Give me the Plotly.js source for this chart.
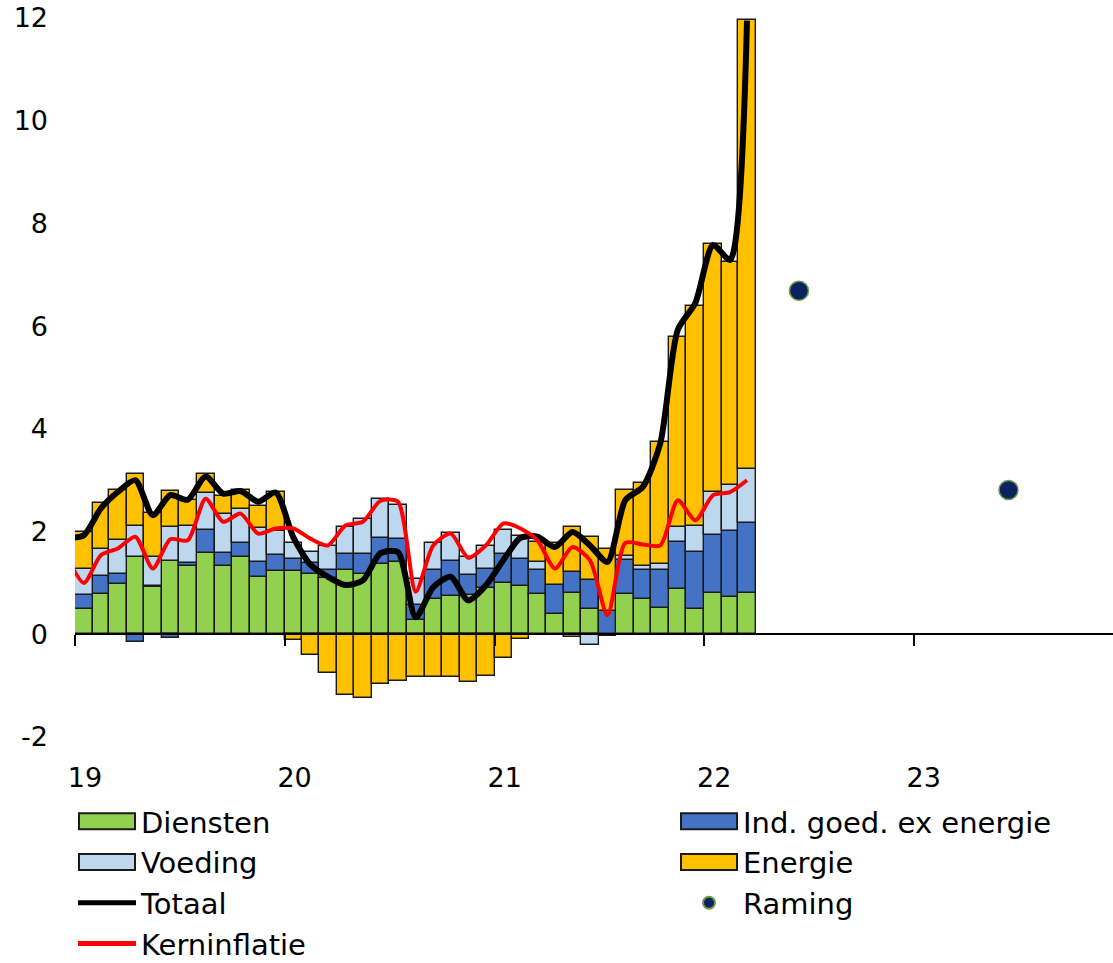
<!DOCTYPE html>
<html>
<head>
<meta charset="utf-8">
<script src="https://cdn.plot.ly/plotly-3.0.1.min.js"></script>
<style>
  html, body { margin: 0; padding: 0; background: #ffffff; }
  #chart { width: 1113px; height: 963px; }
</style>
</head>
<body>
<div id="chart"></div>
<script>
// ---- data ----
const months = [
  '2019-01','2019-02','2019-03','2019-04','2019-05','2019-06','2019-07','2019-08','2019-09','2019-10','2019-11','2019-12',
  '2020-01','2020-02','2020-03','2020-04','2020-05','2020-06','2020-07','2020-08','2020-09','2020-10','2020-11','2020-12',
  '2021-01','2021-02','2021-03','2021-04','2021-05','2021-06','2021-07','2021-08','2021-09','2021-10','2021-11','2021-12',
  '2022-01','2022-02','2022-03'
];
const diensten = [
  0.49, 0.78, 0.97, 1.51, 0.92, 1.43, 1.33, 1.59, 1.33, 1.51, 1.12, 1.24,
  1.24, 1.18, 1.10, 1.26, 1.17, 1.36, 1.41, 0.27, 0.68, 0.75, 0.76, 0.91,
  0.99, 0.95, 0.78, 0.39, 0.81, 0.49, -0.03, 0.79, 0.68, 0.52, 0.88, 0.49,
  0.81, 0.72, 0.81
];
const indGoederen = [
  0.27, 0.35, 0.20, -0.15, 0.02, -0.08, 0.06, 0.44, 0.26, 0.26, 0.29, 0.30,
  0.22, 0.20, 0.16, 0.30, 0.39, 0.52, 0.44, 0.30, 0.57, 0.67, 0.39, 0.37,
  0.57, 0.52, 0.47, 0.57, 0.40, 0.56, 0.45, 0.65, 0.57, 0.73, 0.92, 1.11,
  1.12, 1.29, 1.35
];
const voeding = [
  0.52, 0.54, 0.66, 0.60, 0.57, 0.65, 0.72, 0.73, 0.76, 0.67, 0.65, 0.47,
  0.31, 0.23, 0.46, 0.53, 0.68, 0.76, 0.66, 0.51, 0.52, 0.56, 0.36, 0.44,
  0.47, 0.45, 0.15, 0.00, -0.05, -0.20, 0.00, 0.08, 0.08, 0.11, 0.28, 0.51,
  0.84, 0.89, 1.06
];
const energie = [
  0.71, 0.88, 0.98, 1.02, 0.85, 0.71, 0.50, 0.37, 0.34, 0.37, 0.44, 0.76,
  -0.12, -0.40, -0.75, -1.18, -1.25, -0.97, -0.91, -0.84, -0.84, -0.84, -0.92, -0.82,
  -0.46, -0.09, 0.40, 0.81, 0.88, 0.85, 1.22, 1.29, 1.62, 2.38, 3.70, 4.29,
  4.83, 4.35, 8.75
];
// lines start one month earlier (Dec 2018), clipped at the left edge
const lineMonths = ['2018-12'].concat(months);
const totaal = [
  1.87,
  1.93, 2.45, 2.77, 3.00, 2.32, 2.71, 2.62, 3.07, 2.74, 2.79, 2.58, 2.76,
  1.88, 1.35, 1.12, 0.96, 1.05, 1.58, 1.60, 0.33, 0.92, 1.12, 0.66, 0.95,
  1.45, 1.88, 1.90, 1.70, 1.99, 1.73, 1.41, 2.61, 2.87, 3.72, 5.93, 6.45,
  7.58, 7.29, 11.95
];
const kerninflatie = [
  1.55,
  1.00, 1.54, 1.67, 1.90, 1.28, 1.85, 1.83, 2.64, 2.19, 2.35, 1.96, 2.06,
  2.06, 1.86, 1.73, 2.12, 2.19, 2.60, 2.58, 0.83, 1.73, 1.96, 1.49, 1.73,
  2.16, 2.06, 1.83, 1.28, 1.70, 1.44, 0.37, 1.78, 1.75, 1.73, 2.61, 2.22,
  2.71, 2.77, 3.00
];
const ramingDates = ['2022-06-15', '2023-06-15'];
const raming = [6.69, 2.81];
const yearTicks = ['2019-01-01', '2020-01-01', '2021-01-01', '2022-01-01', '2023-01-01'];
const yearLabels = ['19', '20', '21', '22', '23'];
const yTickVals = [-2, 0, 2, 4, 6, 8, 10, 12];
const yTickText = ['-2', '0', '2', '4', '6', '8', '10', '12'];

// ---- styling ----
const FONT = 'DejaVu Sans, Verdana, sans-serif';
const xRange = ['2019-01-01', '2023-12-14'];
const yRange = [-2, 12];
const W = 1113, H = 963, ML = 75, MR = 0;
const monthWidth = months.map(m => {
  const [y, mo] = m.split('-').map(Number);
  return new Date(Date.UTC(y, mo, 0)).getUTCDate() * 86400000;
});

function barTrace(name, values, color, legendId) {
  return {
    type: 'bar', name: name, x: months, y: values, legend: legendId,
    xperiod: 'M1', xperiodalignment: 'middle',
    width: monthWidth,
    marker: { color: color, line: { color: '#1a1a1a', width: 1.4 } },
    hoverinfo: 'x+y+name'
  };
}

const traces = [
  barTrace('Diensten', diensten, '#92D050', 'legend'),
  barTrace('Ind. goed. ex energie', indGoederen, '#4472C4', 'legend2'),
  barTrace('Voeding', voeding, '#BDD7EE', 'legend'),
  barTrace('Energie', energie, '#FFC000', 'legend2'),
  {
    type: 'scatter', mode: 'lines', name: 'Totaal', legend: 'legend',
    x: lineMonths, y: totaal, xperiod: 'M1', xperiodalignment: 'middle',
    line: { color: '#000000', width: 6, shape: 'spline', smoothing: 0.7 }
  },
  {
    type: 'scatter', mode: 'markers', name: 'Raming', legend: 'legend2',
    x: ramingDates, y: raming, xaxis: 'x2',
    marker: { color: '#0B2160', size: 19, line: { color: '#6B9A4A', width: 1.5 } }
  },
  {
    type: 'scatter', mode: 'lines', name: 'Kerninflatie', legend: 'legend',
    x: lineMonths, y: kerninflatie, xperiod: 'M1', xperiodalignment: 'middle',
    line: { color: '#FF0000', width: 4, shape: 'spline', smoothing: 0.7 }
  }
];

function legendBox(xPx, yPx) {
  return {
    orientation: 'v', traceorder: 'normal',
    xref: 'paper', yref: 'container',
    x: (xPx - ML) / (W - ML - MR), y: 1 - yPx / H, xanchor: 'left', yanchor: 'top',
    itemwidth: 58, itemsizing: 'constant',
    font: { family: FONT, size: 29, color: '#000000' },
    bgcolor: 'rgba(0,0,0,0)', tracegroupgap: 0
  };
}

const layout = {
  width: W, height: H,
  margin: { l: ML, r: MR, t: 18, b: 226 },
  paper_bgcolor: '#ffffff', plot_bgcolor: '#ffffff',
  font: { family: FONT, size: 27, color: '#000000' },
  barmode: 'relative', bargap: 0,
  showlegend: true,
  legend: legendBox(73, 796),
  legend2: legendBox(675, 796),
  xaxis: {
    type: 'date', range: xRange,
    tickvals: yearTicks, ticktext: yearLabels,
    ticks: '', showline: false, showgrid: false, zeroline: false,
    ticklabelshift: 10, ticklabelstandoff: 22,
    tickfont: { family: FONT, size: 27, color: '#000000' },
    fixedrange: true
  },
  xaxis2: {
    type: 'date', range: xRange, overlaying: 'x', anchor: 'free',
    position: (0 - yRange[0]) / (yRange[1] - yRange[0]), side: 'bottom',
    tickvals: yearTicks, showticklabels: false,
    ticks: 'outside', ticklen: 11, tickwidth: 2, tickcolor: '#000000',
    showline: true, linewidth: 2, linecolor: '#000000',
    showgrid: false, zeroline: false, layer: 'above traces'
  },
  yaxis: {
    range: yRange, tickvals: yTickVals, ticktext: yTickText,
    ticks: '', showline: false, showgrid: false, zeroline: false,
    ticklabelstandoff: 26,
    tickfont: { family: FONT, size: 27, color: '#000000' },
    fixedrange: true
  }
};

const gd = document.getElementById('chart');
function widenSwatches() {
  // widen the bar swatches in the legends to match the reference
  gd.querySelectorAll('g.legendpoints path').forEach(function (p) {
    const d = p.getAttribute('d') || '';
    if (p.classList.contains('legendbar') || d.replace(/\s/g, '') === 'M6,6H-6V-6H6Z') {
      p.setAttribute('d', 'M-28,8H28V-8H-28Z');
    }
  });
}
Plotly.newPlot(gd, traces, layout, { displayModeBar: false }).then(function () {
  widenSwatches();
  gd.on('plotly_afterplot', widenSwatches);
  setTimeout(widenSwatches, 100);
  setTimeout(widenSwatches, 500);
});
</script>
</body>
</html>
